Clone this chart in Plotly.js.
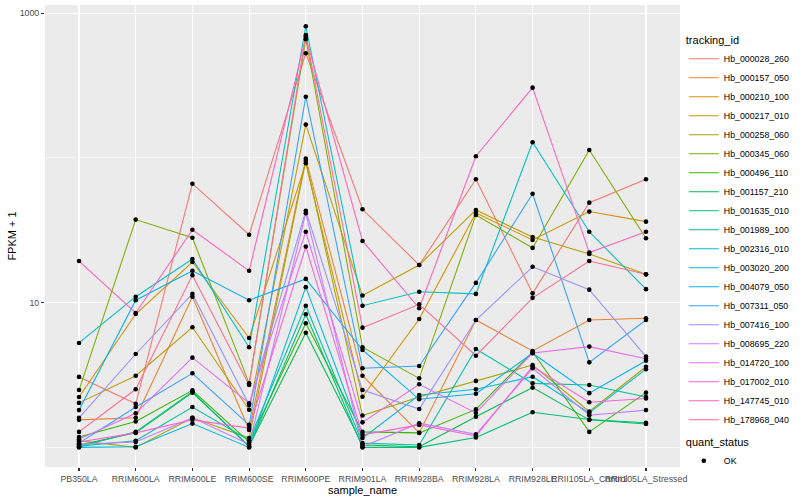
<!DOCTYPE html>
<html><head><meta charset="utf-8">
<script src="https://cdn.plot.ly/plotly-3.0.1.min.js"></script>
<style>html,body{margin:0;padding:0;background:#fff}#chart{width:800px;height:500px}</style>
</head><body><div id="chart"></div>
<script>
// Categories (x axis)
const samples = ["PB350LA","RRIM600LA","RRIM600LE","RRIM600SE","RRIM600PE","RRIM901LA","RRIM928BA","RRIM928LA","RRIM928LE","RRII105LA_Control","RRII105LA_Stressed"];

// Series: FPKM + 1 per sample (same order as samples)
const Hb_000028_260 = [3.07, 2.00, 66.4, 29.5, 529, 44.2, 18.2, 71.3, 11.6, 49.1, 71.3];
const Hb_000157_050 = [1.55, 1.60, 11.0, 1.32, 98.9, 3.13, 1.26, 7.59, 4.64, 7.59, 7.80];
const Hb_000210_100 = [2.23, 8.35, 19.1, 5.70, 91.9, 2.24, 7.71, 41.7, 27.1, 42.6, 36.3];
const Hb_000217_010 = [2.03, 3.13, 6.76, 1.82, 170, 11.2, 18.2, 43.7, 28.4, 21.7, 15.7];
const Hb_000258_060 = [1.11, 1.00, 1.60, 1.16, 95.3, 1.66, 2.23, 2.88, 3.71, 1.77, 3.61];
const Hb_000345_060 = [2.49, 37.5, 28.1, 2.77, 661, 4.92, 3.00, 40.4, 23.9, 113.6, 27.9];
const Hb_000496_110 = [1.18, 1.51, 2.48, 1.09, 7.21, 1.28, 1.26, 1.83, 4.56, 1.28, 2.39];
const Hb_001157_210 = [1.04, 1.26, 2.39, 1.02, 6.20, 1.04, 1.01, 1.63, 2.59, 1.55, 1.45];
const Hb_001635_010 = [1.01, 1.28, 2.43, 1.01, 8.32, 1.00, 1.00, 1.17, 1.75, 1.56, 1.48];
const Hb_001989_100 = [1.02, 1.11, 1.90, 1.12, 9.53, 1.07, 1.04, 4.79, 2.77, 2.70, 2.23];
const Hb_002316_010 = [5.27, 11.0, 20.0, 4.92, 813, 9.53, 11.9, 11.5, 128.5, 30.9, 12.4];
const Hb_003020_200 = [1.00, 1.01, 1.46, 1.00, 12.8, 1.16, 2.30, 2.52, 3.08, 1.73, 3.47];
const Hb_004079_050 = [1.81, 10.4, 16.6, 10.4, 14.6, 4.71, 2.15, 2.35, 4.47, 2.37, 3.97];
const Hb_007311_050 = [1.07, 1.90, 3.25, 1.43, 265, 3.52, 3.65, 13.7, 56.6, 3.87, 7.59];
const Hb_007416_100 = [1.60, 4.42, 11.5, 1.96, 43.2, 2.49, 1.84, 7.59, 17.7, 12.3, 4.24];
const Hb_008695_220 = [1.05, 1.09, 1.60, 1.05, 41.5, 1.01, 1.47, 1.23, 3.52, 1.67, 1.81];
const Hb_014720_100 = [1.14, 1.72, 4.17, 2.02, 30.9, 1.49, 2.73, 1.73, 4.49, 4.97, 4.10];
const Hb_017002_010 = [1.09, 1.26, 1.55, 1.36, 24.4, 1.22, 1.43, 1.20, 3.62, 2.05, 2.18];
const Hb_147745_010 = [19.4, 8.49, 31.9, 16.6, 686, 26.7, 9.15, 102.8, 306, 22.2, 30.9];
const Hb_178968_040 = [1.28, 2.52, 15.5, 2.70, 708, 6.72, 9.75, 4.30, 10.8, 19.4, 15.7];

const trackingIds = ["Hb_000028_260","Hb_000157_050","Hb_000210_100","Hb_000217_010","Hb_000258_060","Hb_000345_060","Hb_000496_110","Hb_001157_210","Hb_001635_010","Hb_001989_100","Hb_002316_010","Hb_003020_200","Hb_004079_050","Hb_007311_050","Hb_007416_100","Hb_008695_220","Hb_014720_100","Hb_017002_010","Hb_147745_010","Hb_178968_040"];
const seriesValues = [Hb_000028_260,Hb_000157_050,Hb_000210_100,Hb_000217_010,Hb_000258_060,Hb_000345_060,Hb_000496_110,Hb_001157_210,Hb_001635_010,Hb_001989_100,Hb_002316_010,Hb_003020_200,Hb_004079_050,Hb_007311_050,Hb_007416_100,Hb_008695_220,Hb_014720_100,Hb_017002_010,Hb_147745_010,Hb_178968_040];
const quantStatus = "OK";
const yTickVals = [10, 1000];
const yTickText = ["10", "1000"];
const yMinorVals = [1, 100];

// ggplot2 default hue palette for 20 levels
const palette = ["#F8766D","#EA8331","#D89000","#C09B00","#A3A500","#7CAE00","#39B600","#00BB4E","#00BF7D","#00C1A3","#00BFC4","#00BAE0","#00B0F6","#35A2FF","#9590FF","#C77CFF","#E76BF3","#FA62DB","#FF62BC","#FF6C91"];

const FONT = "Liberation Sans, Arial, Helvetica, sans-serif";

const traces = trackingIds.map((id, i) => ({
  type: "scatter", mode: "lines", name: id,
  x: samples, y: seriesValues[i],
  line: {color: palette[i], width: 1.07},
  hoverinfo: "skip", legend: "legend"
}));

const px = [], py = [];
seriesValues.forEach(v => v.forEach((val, j) => { px.push(samples[j]); py.push(val); }));
traces.push({
  type: "scatter", mode: "markers", name: quantStatus,
  x: px, y: py,
  marker: {color: "#000000", size: 4.6, symbol: "circle"},
  hoverinfo: "skip", legend: "legend2"
});

const layout = {
  width: 800, height: 500,
  margin: {l: 45, r: 113, t: 5, b: 33},
  paper_bgcolor: "#FFFFFF",
  plot_bgcolor: "#EBEBEB",
  font: {family: FONT, size: 9, color: "#000000"},
  showlegend: true,
  xaxis: {
    type: "category", categoryorder: "array", categoryarray: samples,
    range: [-0.6, 10.6],
    showgrid: true, gridcolor: "#FFFFFF", gridwidth: 1.07,
    zeroline: false, showline: false,
    ticks: "outside", ticklen: 3, tickwidth: 1.07, tickcolor: "#333333",
    tickangle: 0, tickfont: {family: FONT, size: 8.8, color: "#4D4D4D"},
    title: {text: "sample_name", font: {family: FONT, size: 11, color: "#000000"}, standoff: 3},
    automargin: false
  },
  yaxis: {
    type: "log", range: [-0.1355, 3.057],
    tickmode: "array", tickvals: yTickVals, ticktext: yTickText,
    showgrid: true, gridcolor: "#FFFFFF", gridwidth: 1.07,
    minor: {tickmode: "array", tickvals: yMinorVals, showgrid: true, gridcolor: "#FFFFFF", gridwidth: 0.53, ticks: ""},
    zeroline: false, showline: false,
    ticks: "outside", ticklen: 3, tickwidth: 1.07, tickcolor: "#333333",
    tickfont: {family: FONT, size: 8.8, color: "#4D4D4D"},
    title: {text: "FPKM + 1", font: {family: FONT, size: 11, color: "#000000"}, standoff: 0},
    automargin: false
  },
  legend: {
    title: {text: "tracking_id", font: {family: FONT, size: 11, color: "#000000"}},
    font: {family: FONT, size: 8.8, color: "#000000"},
    x: 1.006, xanchor: "left", y: 0.946, yanchor: "top",
    bgcolor: "rgba(0,0,0,0)", tracegroupgap: 0, itemwidth: 30
  },
  legend2: {
    title: {text: "quant_status", font: {family: FONT, size: 11, color: "#000000"}},
    font: {family: FONT, size: 8.8, color: "#000000"},
    x: 1.006, xanchor: "left", y: 0.076, yanchor: "top",
    bgcolor: "rgba(0,0,0,0)", itemwidth: 30
  }
};

Plotly.newPlot("chart", traces, layout, {displayModeBar: false, staticPlot: true});
</script>
</body></html>
